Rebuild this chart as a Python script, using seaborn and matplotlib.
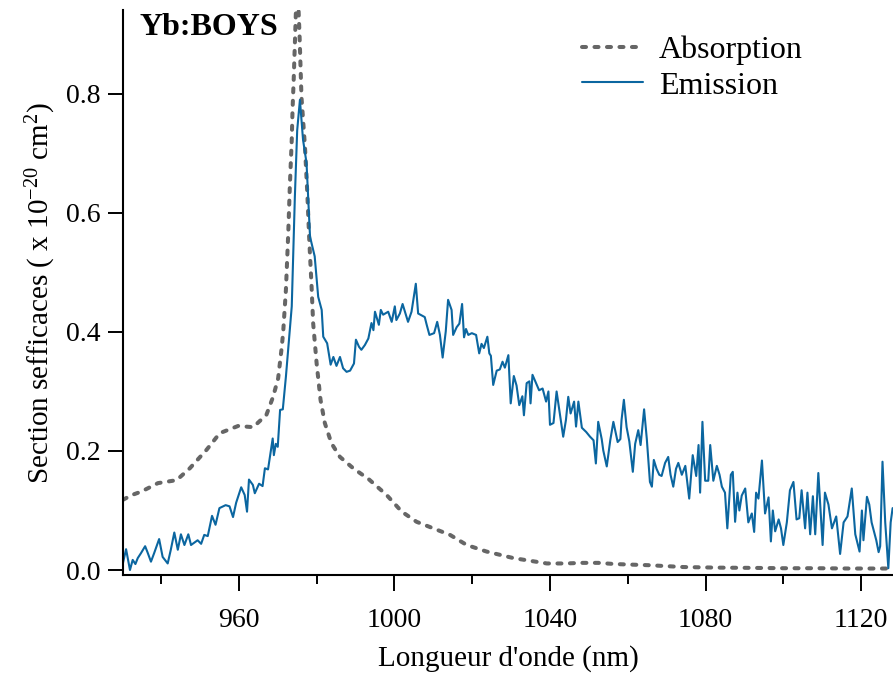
#!/usr/bin/env python3
"""
Absorption / emission cross sections of Yb:BOYS, redrawn with seaborn.
Values read off the original figure (units of 1e-20 cm^2).
"""

import matplotlib
matplotlib.use("Agg")
import matplotlib.pyplot as plt
from matplotlib.ticker import MultipleLocator
import pandas as pd
import seaborn as sns

# absorption cross section (smooth, dashed)
ABS_WL = [930.2, 932.5, 935.0, 939.2, 944.0, 947.4, 951.7, 955.1, 959.8, 963.7,
          967.1, 968.8, 970.1, 971.0, 971.4, 972.1, 972.7, 973.1, 973.6, 973.8,
          974.1, 974.7, 975.0, 975.6, 976.1, 977.0, 977.6, 978.1, 978.7, 979.1,
          980.0, 981.0, 982.1, 983.8, 986.0, 989.4, 993.5, 998.0, 1001.9, 1005.7,
          1010.0, 1014.3, 1018.6, 1023.7, 1030.6, 1039.2, 1044.0, 1048.2, 1052.4, 1056.7,
          1065.7, 1074.3, 1082.9, 1091.5, 1100.1, 1108.6, 1117.2, 1128.0]
ABS_SIGMA = [0.118, 0.126, 0.132, 0.146, 0.151, 0.171, 0.202, 0.230, 0.242, 0.240,
             0.261, 0.291, 0.322, 0.373, 0.400, 0.471, 0.566, 0.644, 0.723, 0.773,
             0.824, 0.945, 1.000, 0.900, 0.795, 0.711, 0.633, 0.555, 0.476, 0.415,
             0.347, 0.286, 0.247, 0.213, 0.190, 0.171, 0.152, 0.126, 0.098, 0.081,
             0.070, 0.059, 0.042, 0.031, 0.020, 0.011, 0.011, 0.012, 0.012, 0.010,
             0.008, 0.005, 0.004, 0.0036, 0.003, 0.003, 0.0025, 0.0025]

# emission cross section (noisy, solid)
EM_WL = [930.0, 931.0, 932.0, 932.7, 933.4, 934.0, 934.8, 935.9, 936.5, 937.4,
         938.2, 939.5, 940.4, 941.7, 942.5, 943.4, 944.3, 945.1, 946.0, 947.0,
         947.7, 949.4, 950.3, 951.1, 952.0, 953.1, 954.0, 955.0, 956.6, 957.6,
         958.5, 959.3, 960.6, 961.5, 962.1, 962.6, 963.6, 964.1, 965.2, 966.1,
         966.7, 967.5, 968.7, 969.0, 969.5, 970.0, 970.6, 971.3, 972.1, 973.6,
         974.4, 975.0, 975.7, 976.5, 977.4, 978.3, 979.5, 980.4, 981.3, 981.7,
         982.7, 983.6, 984.3, 985.1, 986.0, 986.8, 987.7, 988.6, 989.6, 990.1,
         990.9, 991.5, 992.4, 993.3, 994.1, 994.6, 995.0, 996.0, 996.5, 997.1,
         998.4, 999.3, 1000.1, 1000.5, 1001.4, 1002.1, 1003.5, 1004.4, 1005.5, 1006.1,
         1007.8, 1008.3, 1009.0, 1010.2, 1011.0, 1011.7, 1012.4, 1013.2, 1013.8, 1014.7,
         1015.1, 1016.0, 1016.7, 1017.4, 1017.9, 1018.4, 1019.0, 1019.9, 1021.0, 1021.8,
         1022.4, 1023.0, 1023.9, 1024.4, 1024.8, 1025.4, 1026.3, 1027.1, 1027.8, 1028.4,
         1029.3, 1029.9, 1030.7, 1031.4, 1032.1, 1032.9, 1033.3, 1034.0, 1034.7, 1035.0,
         1035.5, 1036.4, 1037.2, 1038.1, 1039.0, 1039.6, 1040.0, 1040.9, 1041.7, 1043.4,
         1044.1, 1044.7, 1045.3, 1046.2, 1046.7, 1047.3, 1048.2, 1049.3, 1050.3, 1051.2,
         1051.8, 1052.4, 1053.3, 1053.7, 1054.6, 1055.5, 1056.3, 1057.4, 1058.1, 1058.4,
         1059.0, 1059.7, 1060.4, 1061.3, 1061.9, 1062.7, 1063.3, 1064.2, 1064.9, 1065.7,
         1066.2, 1066.7, 1067.4, 1068.1, 1068.7, 1069.6, 1070.4, 1071.0, 1071.7, 1072.4,
         1073.0, 1073.9, 1074.8, 1075.8, 1076.7, 1077.6, 1078.2, 1078.6, 1079.2, 1079.9,
         1080.7, 1081.2, 1082.0, 1082.9, 1083.6, 1084.2, 1085.0, 1085.6, 1086.5, 1087.0,
         1087.6, 1088.2, 1088.7, 1089.3, 1090.2, 1091.0, 1091.9, 1092.5, 1093.0, 1093.6,
         1094.5, 1095.3, 1096.2, 1096.8, 1097.3, 1097.9, 1098.8, 1099.4, 1100.0, 1100.9,
         1101.7, 1102.6, 1103.4, 1104.1, 1104.7, 1105.6, 1106.2, 1106.9, 1107.6, 1108.2,
         1109.0, 1110.1, 1110.7, 1111.6, 1112.5, 1113.6, 1114.6, 1115.5, 1116.5, 1117.6,
         1118.5, 1119.6, 1120.2, 1120.6, 1121.5, 1122.1, 1122.7, 1123.9, 1124.5, 1124.9,
         1125.5, 1126.2, 1127.0, 1127.6, 1128.1]
EM_SIGMA = [0.006, 0.035, 0.000, 0.017, 0.010, 0.020, 0.028, 0.040, 0.030, 0.014,
            0.028, 0.052, 0.022, 0.011, 0.034, 0.063, 0.034, 0.060, 0.042, 0.060,
            0.042, 0.050, 0.044, 0.059, 0.057, 0.091, 0.076, 0.104, 0.109, 0.107,
            0.089, 0.113, 0.139, 0.126, 0.098, 0.152, 0.143, 0.129, 0.145, 0.141,
            0.171, 0.169, 0.221, 0.193, 0.212, 0.207, 0.269, 0.270, 0.325, 0.443,
            0.627, 0.739, 0.790, 0.723, 0.684, 0.560, 0.527, 0.459, 0.437, 0.392,
            0.381, 0.345, 0.358, 0.343, 0.358, 0.339, 0.333, 0.335, 0.347, 0.387,
            0.375, 0.370, 0.378, 0.389, 0.415, 0.403, 0.434, 0.412, 0.437, 0.429,
            0.434, 0.417, 0.443, 0.420, 0.431, 0.447, 0.417, 0.434, 0.481, 0.431,
            0.425, 0.412, 0.395, 0.398, 0.417, 0.395, 0.357, 0.401, 0.454, 0.437,
            0.395, 0.408, 0.414, 0.447, 0.391, 0.405, 0.395, 0.398, 0.395, 0.364,
            0.380, 0.373, 0.392, 0.364, 0.360, 0.311, 0.335, 0.337, 0.350, 0.340,
            0.361, 0.280, 0.326, 0.310, 0.277, 0.292, 0.260, 0.314, 0.317, 0.280,
            0.328, 0.314, 0.302, 0.305, 0.283, 0.300, 0.244, 0.247, 0.300, 0.224,
            0.252, 0.291, 0.263, 0.283, 0.241, 0.283, 0.239, 0.232, 0.224, 0.218,
            0.179, 0.249, 0.220, 0.201, 0.174, 0.218, 0.249, 0.215, 0.220, 0.252,
            0.286, 0.240, 0.216, 0.165, 0.212, 0.235, 0.210, 0.270, 0.220, 0.148,
            0.140, 0.185, 0.170, 0.160, 0.158, 0.180, 0.190, 0.160, 0.140, 0.170,
            0.180, 0.160, 0.175, 0.120, 0.193, 0.158, 0.210, 0.130, 0.249, 0.150,
            0.150, 0.210, 0.150, 0.175, 0.160, 0.140, 0.130, 0.070, 0.160, 0.165,
            0.081, 0.130, 0.100, 0.125, 0.137, 0.080, 0.095, 0.064, 0.130, 0.120,
            0.184, 0.095, 0.122, 0.048, 0.100, 0.065, 0.085, 0.070, 0.042, 0.080,
            0.134, 0.148, 0.085, 0.087, 0.134, 0.070, 0.130, 0.060, 0.124, 0.060,
            0.163, 0.042, 0.130, 0.110, 0.070, 0.090, 0.027, 0.080, 0.090, 0.137,
            0.060, 0.031, 0.100, 0.050, 0.123, 0.110, 0.080, 0.050, 0.030, 0.040,
            0.182, 0.080, 0.003, 0.080, 0.104]

ABS_COLOR = "#666666"
EM_COLOR = "#0b66a0"


def build_frame(wl, sigma, name):
    return pd.DataFrame({"wavelength": wl, "sigma": sigma, "spectrum": name})


def main():
    sns.set_theme(style="ticks")
    plt.rcParams["font.family"] = ["Liberation Serif", "DejaVu Serif"]
    plt.rcParams["mathtext.fontset"] = "custom"
    plt.rcParams["mathtext.rm"] = "Liberation Serif"
    plt.rcParams["mathtext.it"] = "Liberation Serif:italic"
    plt.rcParams["axes.linewidth"] = 1.5
    plt.rcParams["text.color"] = "black"
    plt.rcParams["axes.labelcolor"] = "black"

    fig = plt.figure(figsize=(8.93, 6.76), dpi=100)
    ax = fig.add_axes([0.1377, 0.1494, 0.8623, 0.8358])

    absorb = build_frame(ABS_WL, ABS_SIGMA, "Absorption")
    emit = build_frame(EM_WL, EM_SIGMA, "Emission")

    sns.lineplot(data=absorb, x="wavelength", y="sigma", ax=ax, color=ABS_COLOR,
                 lw=2.9, linestyle=(0, (1.0, 2.1)), label="Absorption",
                 estimator=None)
    ax.lines[-1].set_dash_capstyle("round")
    sns.lineplot(data=emit, x="wavelength", y="sigma", ax=ax, color=EM_COLOR,
                 lw=1.5, label="Emission", estimator=None)

    ax.set_xlim(930.2, 1128.2)
    ax.set_ylim(-0.0084, 0.941)
    ax.xaxis.set_major_locator(MultipleLocator(40))
    ax.xaxis.set_minor_locator(MultipleLocator(20))
    ax.yaxis.set_major_locator(MultipleLocator(0.2))

    sns.despine(ax=ax)
    for side in ("left", "bottom"):
        ax.spines[side].set_color("black")
        ax.spines[side].set_linewidth(1.5)

    ax.tick_params(axis="x", which="major", length=11.5, width=1.4, pad=12,
                   labelsize=20, colors="black")
    ax.tick_params(axis="x", which="minor", length=6.5, width=1.4, colors="black")
    ax.tick_params(axis="y", which="major", length=11, width=1.4, pad=5,
                   labelsize=20, colors="black")

    ax.set_xlabel("Longueur d'onde (nm)", fontsize=21, labelpad=9)
    ax.set_ylabel(r"Section sefficaces ( x 10$^{-20}$ cm$^{2}$)", fontsize=21,
                  labelpad=6)

    ax.text(0.022, 0.995, "Yb:BOYS", transform=ax.transAxes, fontsize=23,
            fontweight="bold", ha="left", va="top")

    ax.legend(loc="upper left", bbox_to_anchor=(0.596, 0.955), frameon=False,
              fontsize=23, handlelength=1.9, handletextpad=0.5, borderpad=0,
              borderaxespad=0, labelspacing=0.2)

    fig.savefig("out.png", dpi=100)
    plt.close(fig)


if __name__ == "__main__":
    main()
